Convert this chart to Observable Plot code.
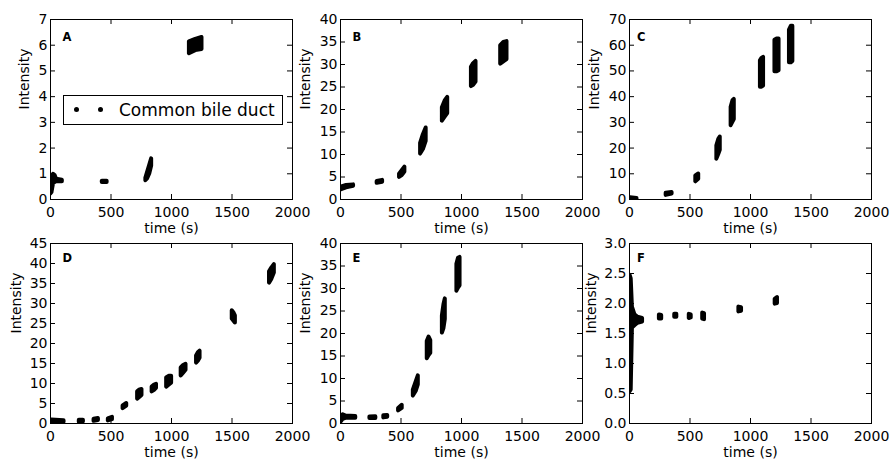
<!DOCTYPE html>
<html><head><meta charset="utf-8">
<script src="https://cdn.jsdelivr.net/npm/d3@7"></script>
<script src="https://cdn.jsdelivr.net/npm/@observablehq/plot@0.6"></script>
<style>
body{margin:0;background:#fff;font-family:"DejaVu Sans",sans-serif;}
#fig{position:relative;width:891px;height:462px;overflow:hidden;background:#fff;}
#fig svg{position:absolute;overflow:visible;}
.legend{position:absolute;left:63px;top:95px;width:220px;height:30px;box-sizing:border-box;border:1px solid #000;background:#fff;}
.legend .dot{position:absolute;width:5px;height:5px;border-radius:50%;background:#000;top:11px;}
.legend .lab{position:absolute;left:55px;top:3px;font-size:17px;line-height:22px;color:#000;white-space:nowrap;font-family:"DejaVu Sans",sans-serif;}
</style></head><body><div id="fig"></div>
<script>
// ---- data ----
const timeTicks = [0, 500, 1000, 1500, 2000];
const panelLetters = ["A", "B", "C", "D", "E", "F"];
const yTicksA = [0, 1, 2, 3, 4, 5, 6, 7];
const yTicksB = [0, 5, 10, 15, 20, 25, 30, 35, 40];
const yTicksC = [0, 10, 20, 30, 40, 50, 60, 70];
const yTicksD = [0, 5, 10, 15, 20, 25, 30, 35, 40, 45];
const yTicksE = [0, 5, 10, 15, 20, 25, 30, 35, 40];
const yTicksF = [0, 0.5, 1.0, 1.5, 2.0, 2.5, 3.0];
const legendLabel = "Common bile duct";
const xLabel = "time (s)";
const yLabel = "Intensity";

// each cluster of measurements: [time, lowest intensity, highest intensity]
const clustersA = [
  [[4,0.22,0.45],[12,0.27,0.85],[25,0.62,0.98],[38,0.66,0.93],[50,0.69,0.79],[98,0.69,0.75]],
  [[428,0.66,0.71],[468,0.66,0.71]],
  [[788,0.73,0.82],[802,0.8,1.05],[820,0.99,1.33],[836,1.3,1.58]],
  [[1148,5.67,6.13],[1200,5.79,6.23],[1252,5.83,6.3]]
];
const clustersB = [
  [[10,2.2,2.8],[50,2.6,3.1],[108,2.95,3.25]],
  [[303,3.6,4.0],[348,3.85,4.25]],
  [[488,4.9,5.6],[510,5.3,6.4],[532,6.1,7.2]],
  [[662,10.1,12.5],[685,11.1,14.4],[708,12.9,15.9]],
  [[842,17.4,20.4],[865,18.3,21.9],[886,19.1,22.7]],
  [[1082,25.1,29.4],[1100,25.4,30.2],[1120,26.1,30.7]],
  [[1324,30.1,34.2],[1350,30.6,34.9],[1376,31.1,35.1]]
];
const clustersC = [
  [[8,0.2,0.7],[62,0.2,0.4]],
  [[303,1.6,2.4],[352,2.1,2.7]],
  [[548,6.9,9.2],[572,7.9,9.9]],
  [[722,15.7,20.9],[738,17.6,23.4],[750,19.1,24.3]],
  [[840,28.7,35.9],[855,30.1,38.4],[866,31.1,38.9]],
  [[1082,43.7,53.9],[1095,43.7,54.9],[1108,44.1,55.3]],
  [[1202,49.7,61.9],[1220,49.7,62.4],[1236,50.1,62.4]],
  [[1322,53.2,65.9],[1338,53.2,67.4],[1350,53.7,67.4]]
];
const clustersD = [
  [[10,0.35,0.85],[112,0.35,0.7]],
  [[238,0.35,0.8],[272,0.45,0.8]],
  [[360,0.55,1.05],[396,0.75,1.25]],
  [[478,0.65,1.15],[512,0.95,1.55]],
  [[600,3.7,4.4],[630,4.35,5.0]],
  [[720,6.1,7.9],[740,6.6,8.4],[756,7.0,8.5]],
  [[840,7.9,9.1],[860,8.3,9.6],[876,8.8,9.8]],
  [[960,9.1,11.4],[980,9.6,11.8],[1001,10.1,11.8]],
  [[1080,11.9,13.9],[1100,12.6,14.5],[1120,13.3,14.8]],
  [[1207,15.1,16.9],[1222,15.6,17.7],[1236,16.3,18.1]],
  [[1502,26.1,28.2],[1515,25.6,27.7],[1528,25.1,26.9]],
  [[1810,35.1,37.9],[1830,36.1,38.9],[1850,37.6,39.7]]
];
const clustersE = [
  [[6,0.35,1.15],[22,0.95,1.95],[45,1.15,1.65],[126,1.15,1.55]],
  [[243,1.1,1.45],[292,1.1,1.5]],
  [[358,1.25,1.7],[390,1.4,1.8]],
  [[480,2.8,3.35],[510,3.35,4.05]],
  [[602,6.1,7.4],[625,7.1,9.2],[643,8.6,10.6]],
  [[717,14.4,18.2],[732,15.1,19.2],[746,15.6,18.4]],
  [[842,20.1,23.9],[855,21.1,26.4],[866,23.1,27.7]],
  [[962,29.4,35.4],[975,30.1,36.7],[988,30.6,36.9]]
];
const clustersF = [
  [[5,0.53,2.47],[14,0.56,2.41],[24,1.59,1.94],[45,1.63,1.81],[70,1.67,1.77],[108,1.69,1.75]],
  [[247,1.74,1.81],[266,1.74,1.8]],
  [[374,1.77,1.82],[391,1.77,1.82]],
  [[494,1.75,1.82],[510,1.76,1.81]],
  [[605,1.74,1.84],[620,1.73,1.83]],
  [[904,1.86,1.94],[926,1.87,1.93]],
  [[1204,1.99,2.07],[1223,2.0,2.1]]
];

// ---- layout ----
const W = 312, H = 238, ML = 50, MR = 20, MT = 19, MB = 39;
const innerW = W - ML - MR, innerH = H - MT - MB;
const panels = [
  {clusters: clustersA, ticks: yTicksA, fmt: d => String(d), left: 0,   top: 0,   ldx: -25.5, tdx: 12,  tdy: 13.5},
  {clusters: clustersB, ticks: yTicksB, fmt: d => String(d), left: 290, top: 0,   ldx: -34.5, tdx: 12,  tdy: 13.5},
  {clusters: clustersC, ticks: yTicksC, fmt: d => String(d), left: 579, top: 0,   ldx: -35,   tdx: 7.5, tdy: 13.5},
  {clusters: clustersD, ticks: yTicksD, fmt: d => String(d), left: 0,   top: 224, ldx: -34,   tdx: 12,  tdy: 10.5},
  {clusters: clustersE, ticks: yTicksE, fmt: d => String(d), left: 290, top: 224, ldx: -34.7, tdx: 12,  tdy: 10.5},
  {clusters: clustersF, ticks: yTicksF, fmt: d => d.toFixed(1), left: 579, top: 224, ldx: -38, tdx: 7.5, tdy: 10.5}
];

const fig = document.getElementById("fig");
panels.forEach((p, i) => {
  const rows = p.clusters.flatMap((c, g) => c.map(([t, lo, hi]) => ({t, lo, hi, g})));
  const ymax = p.ticks[p.ticks.length - 1];
  const svg = Plot.plot({
    width: W, height: H, marginLeft: ML, marginRight: MR, marginTop: MT, marginBottom: MB,
    style: {background: "transparent", fontFamily: "DejaVu Sans", fontSize: "14px", color: "black", overflow: "visible"},
    x: {domain: [0, 2000], axis: null},
    y: {domain: [0, ymax], axis: null},
    marks: [
      Plot.areaY(rows, {x: "t", y1: "lo", y2: "hi", z: "g", fill: "black", stroke: "black", strokeWidth: 4, strokeLinejoin: "round", strokeLinecap: "round", clip: true}),
      Plot.ruleX(timeTicks, {x: d => d, insetTop: innerH - 5, stroke: "black"}),
      Plot.ruleX(timeTicks, {x: d => d, insetBottom: innerH - 5, stroke: "black"}),
      Plot.ruleY(p.ticks, {y: d => d, insetRight: innerW - 5, stroke: "black"}),
      Plot.ruleY(p.ticks, {y: d => d, insetLeft: innerW - 5, stroke: "black"}),
      Plot.frame({stroke: "black"}),
      Plot.text(timeTicks, {x: d => d, frameAnchor: "bottom", dy: 7.5, lineAnchor: "top", text: d => String(d), fontSize: 14, fill: "black"}),
      Plot.text(p.ticks, {y: d => d, frameAnchor: "left", dx: -3, textAnchor: "end", lineAnchor: "middle", text: p.fmt, fontSize: 14, fill: "black"}),
      Plot.text([panelLetters[i]], {frameAnchor: "top-left", dx: p.tdx, dy: p.tdy, textAnchor: "start", lineAnchor: "top", text: d => d, fontSize: 11.5, fontWeight: "bold", fill: "black"}),
      Plot.text([xLabel], {frameAnchor: "bottom", dy: 23.5, lineAnchor: "top", text: d => d, fontSize: 14, fill: "black"}),
      Plot.text([yLabel], {frameAnchor: "left", dx: p.ldx, rotate: -90, lineAnchor: "middle", text: d => d, fontSize: 14, fill: "black"})
    ]
  });
  svg.style.left = p.left + "px";
  svg.style.top = p.top + "px";
  fig.appendChild(svg);
});

// legend in panel A
const leg = document.createElement("div");
leg.className = "legend";
leg.innerHTML = `<span class="dot" style="left:10px"></span><span class="dot" style="left:34px"></span><span class="lab"></span>`;
leg.querySelector(".lab").textContent = legendLabel;
fig.appendChild(leg);
</script>
</body></html>
